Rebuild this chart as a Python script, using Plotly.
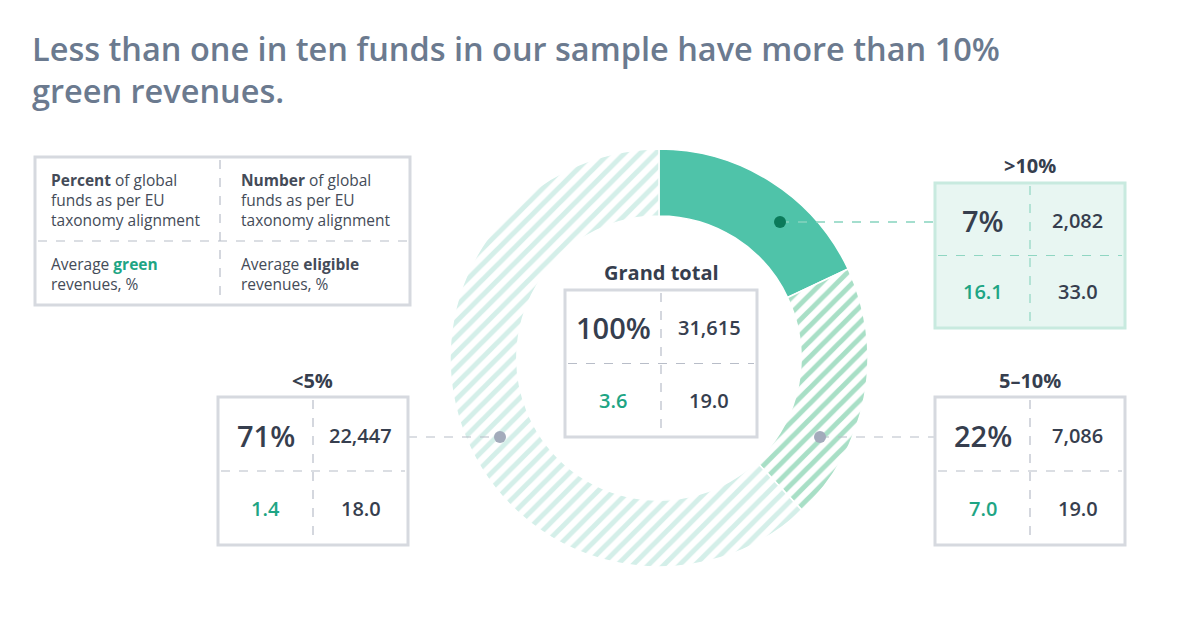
import plotly.graph_objects as go

W, H = 1200, 627

# ---- data ----
bands = [">10%", "5–10%", "<5%"]
pct_of_funds = ["7%", "22%", "71%"]
num_of_funds = ["2,082", "7,086", "22,447"]
avg_green = ["16.1", "7.0", "1.4"]
avg_eligible = ["33.0", "19.0", "18.0"]
arc_share_drawn = [18, 20, 62]          # arc sizes as drawn in the infographic
total_pct, total_num, total_green, total_elig = "100%", "31,615", "3.6", "19.0"

TITLE = ["Less than one in ten funds in our sample have more than 10%", "green revenues."]

DARK = "#363e4e"
TEAL_TXT = "#1ea584"
GREY_LINE = "#b8bdc8"
BOX_LINE = "#d6d9df"
FONT = "Open Sans"


def px(x):
    return x / W


def py(y):
    return 1 - y / H


fig = go.Figure()

fig.add_trace(go.Pie(
    labels=bands,
    values=arc_share_drawn,
    sort=False,
    direction="clockwise",
    rotation=0,
    hole=0.68,
    textinfo="none",
    hoverinfo="label",
    showlegend=False,
    domain=dict(x=[px(450), px(868)], y=[py(567), py(149)]),
    marker=dict(
        colors=["#4fc3a9", "#ffffff", "#ffffff"],
        line=dict(color="#ffffff", width=1.5),
        pattern=dict(shape=["", "/", "/"],
                     fgcolor=["#4fc3a9", "#a8dfc6", "#d4efe9"],
                     bgcolor=["#4fc3a9", "#ffffff", "#ffffff"],
                     size=11, solidity=0.45),
    ),
))

shapes = []
annotations = []


def text(x, y, s, size, color=DARK, weight=400, xanchor="center", align="center"):
    annotations.append(dict(
        x=px(x), y=py(y), xref="paper", yref="paper", text=s, showarrow=False,
        xanchor=xanchor, yanchor="middle", align=align,
        font=dict(family=FONT, size=size, color=color, weight=weight),
    ))


def rect(x0, y0, x1, y1, line=BOX_LINE, fill="rgba(0,0,0,0)", width=3):
    shapes.append(dict(type="rect", xref="paper", yref="paper",
                       x0=px(x0), x1=px(x1), y0=py(y1), y1=py(y0),
                       line=dict(color=line, width=width), fillcolor=fill, layer="above"))


def dline(x0, y0, x1, y1, color=GREY_LINE, width=1.2):
    shapes.append(dict(type="line", xref="paper", yref="paper",
                       x0=px(x0), x1=px(x1), y0=py(y0), y1=py(y1),
                       line=dict(color=color, width=width, dash="dash"), layer="above"))


def dot(x, y, r, color):
    shapes.append(dict(type="circle", xref="paper", yref="paper",
                       x0=px(x - r), x1=px(x + r), y0=py(y + r), y1=py(y - r),
                       line=dict(width=0), fillcolor=color, layer="above"))


# ---- title ----
text(30, 70, "<br>".join(TITLE), 32.5, color="#6b7a8f", weight=600, xanchor="left", align="left")

# ---- key box ----
rect(35, 157, 410, 305)
dline(220, 160, 220, 302)
dline(38, 241, 407, 241)
text(49, 200, "<b>Percent</b> of global<br>funds as per EU<br>taxonomy alignment", 15.5,
     color="#444b58", xanchor="left", align="left")
text(239, 200, "<b>Number</b> of global<br>funds as per EU<br>taxonomy alignment", 15.5,
     color="#444b58", xanchor="left", align="left")
text(49, 274, f"Average <b><span style='color:{TEAL_TXT}'>green</span></b><br>revenues, %", 15.5,
     color="#444b58", xanchor="left", align="left")
text(239, 274, "Average <b>eligible</b><br>revenues, %", 15.5,
     color="#444b58", xanchor="left", align="left")


def data_box(x0, y0, x1, y1, label, pct, num, green, elig, line=BOX_LINE,
             fill="#ffffff", divider=GREY_LINE):
    rect(x0, y0, x1, y1, line=line, fill=fill)
    xm = (x0 + x1) / 2
    ym = (y0 + y1) / 2
    dline(xm, y0 + 3, xm, y1 - 3, color=divider)
    dline(x0 + 3, ym, x1 - 3, ym, color=divider)
    text(xm, y0 - 17, f"<b>{label}</b>", 20)
    cl = (x0 + xm) / 2
    cr = (xm + x1) / 2
    rt = (y0 + ym) / 2 + 1
    rb = (ym + y1) / 2
    text(cl, rt, pct, 29, weight=600)
    text(cr, rt, num, 20, weight=600)
    text(cl, rb, green, 20, color=TEAL_TXT, weight=600)
    text(cr, rb, elig, 20, weight=600)


# connectors and dots
dline(780, 222, 935, 222, color="#86d3be", width=1.4)
dline(820, 437, 935, 437)
dline(408, 437, 500, 437)
dot(780, 222, 6, "#0b7a5a")
dot(820, 437, 6, "#a3abbb")
dot(500, 437, 6, "#a3abbb")

# grand total
data_box(565, 290, 757, 437, "Grand total", total_pct, total_num, total_green, total_elig)
# >10%
data_box(935, 183, 1125, 328, bands[0], pct_of_funds[0], num_of_funds[0], avg_green[0],
         avg_eligible[0], line="#c8eadf", fill="#e8f6f2", divider="#8fd6c2")
# 5-10%
data_box(935, 397, 1125, 545, bands[1], pct_of_funds[1], num_of_funds[1], avg_green[1],
         avg_eligible[1])
# <5%
data_box(218, 397, 408, 545, bands[2], pct_of_funds[2], num_of_funds[2], avg_green[2],
         avg_eligible[2])

fig.update_layout(
    width=W, height=H,
    margin=dict(l=0, r=0, t=0, b=0),
    paper_bgcolor="#ffffff", plot_bgcolor="#ffffff",
    shapes=shapes, annotations=annotations,
    font=dict(family=FONT),
)

fig.write_html("out.html")
